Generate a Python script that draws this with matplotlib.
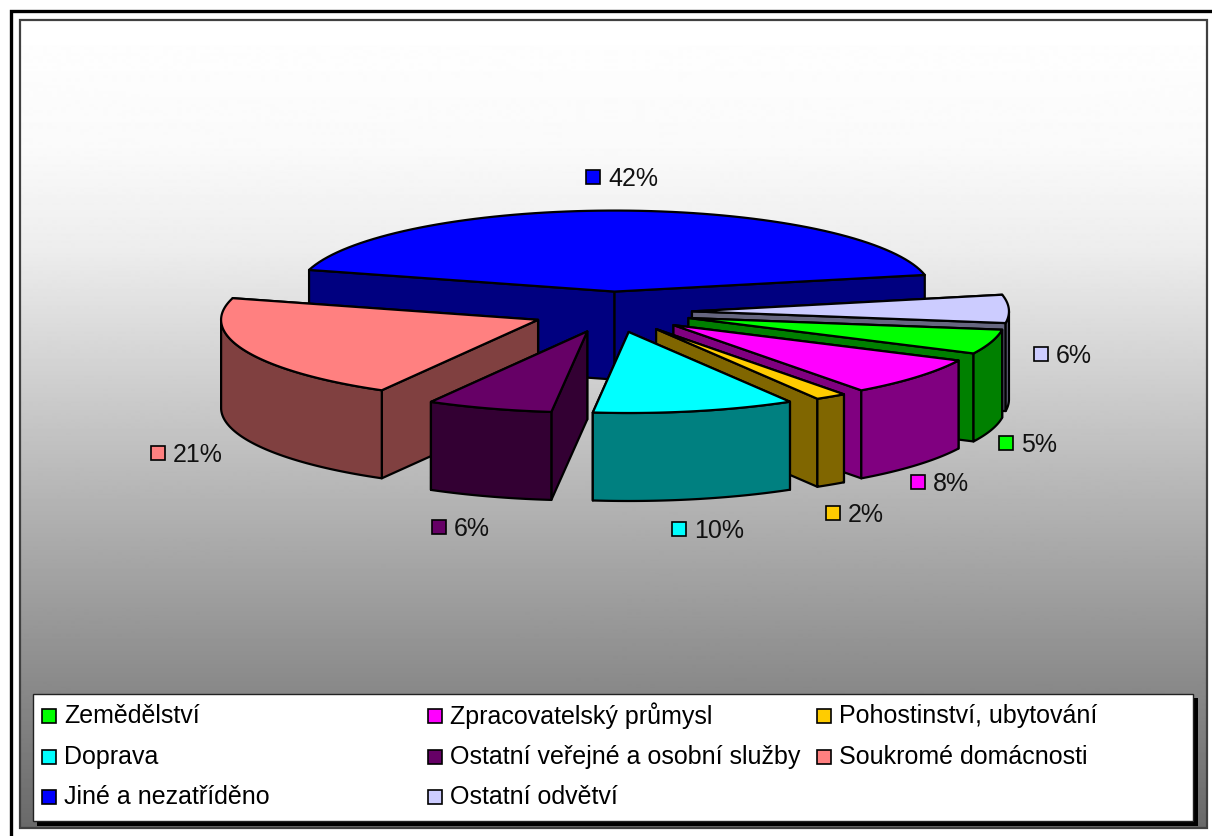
import numpy as np
import matplotlib
matplotlib.use("Agg")
import matplotlib.pyplot as plt
from matplotlib.patches import Polygon, Rectangle

categories = ["Zemědělství", "Zpracovatelský průmysl", "Pohostinství, ubytování",
              "Doprava", "Ostatní veřejné a osobní služby", "Soukromé domácnosti",
              "Jiné a nezatříděno", "Ostatní odvětví"]
values = [4.9, 7.7, 1.6, 10.3, 6.4, 21.1, 42.4, 5.6]
top_colors = ["#00FF00", "#FF00FF", "#FFCC00", "#00FFFF", "#660066", "#FF8080", "#0000FF", "#CCCCFF"]
side_colors = ["#008000", "#800080", "#806600", "#008080", "#330033", "#804040", "#000080", "#666680"]

# label anchors in pixels (key centre), same order as categories
label_x = [1006, 918, 833, 679, 439, 158, 593, 1041]
label_y = [444, 483, 514, 530, 528, 454, 178, 355]

# pie geometry in pixels
cx, cy = 612, 313
rx, ry = 317, 81
explode = 80
depth = 88
start_angle = -8.3

plt.rcParams["font.family"] = ["Liberation Sans", "DejaVu Sans"]

fig = plt.figure(figsize=(12.12, 8.37), dpi=100)
ax = fig.add_axes([0, 0, 1, 1])
ax.set_xlim(0, 1212)
ax.set_ylim(837, 0)
ax.axis("off")

# frame and gradient background
ax.plot([10.5, 10.5, 1212], [837, 11.5, 11.5], color="black", lw=2.4, solid_joinstyle="miter")
rows = np.arange(21, 830)
grad = np.interp(rows, [21, 150, 250, 830], [255, 250, 237, 105])[:, None]
ax.imshow(grad, cmap="gray", vmin=0, vmax=255, extent=[20, 1207, 829, 21], aspect="auto", zorder=0)
ax.set_xlim(0, 1212)
ax.set_ylim(837, 0)
ax.add_patch(Rectangle((20, 21), 1187, 808, fill=False, ec="#404040", lw=1.6, zorder=1))


def pt(a, mx, my, drop=0):
    t = np.radians(a)
    return mx + rx * np.cos(t), my - ry * np.sin(t) + drop


# slices run clockwise from the start angle
sweep = np.array(values) * 3.6
ends = start_angle - np.cumsum(sweep)
starts = ends + sweep
mids = (starts + ends) / 2
apex_x = cx + explode * np.cos(np.radians(mids))
apex_y = cy - explode * (ry / rx) * np.sin(np.radians(mids))

z = 5
for i in np.argsort(apex_y):
    mx, my = apex_x[i], apex_y[i]
    a0, a1 = starts[i], ends[i]
    style = dict(ec="black", lw=1.6, joinstyle="round")

    # the two cut faces, the one further back first
    faces = []
    for a in (a0, a1):
        ex, ey = pt(a, mx, my)
        faces.append((ey, [(mx, my), (ex, ey), (ex, ey + depth), (mx, my + depth)]))
    faces.sort(key=lambda f: f[0])
    for _, verts in faces:
        ax.add_patch(Polygon(verts, fc=side_colors[i], zorder=z, **style))
        z += 1

    # outer rim, only the part facing the viewer
    arc = np.linspace(a0, a1, 80)
    front = arc[np.sin(np.radians(arc)) < 0]
    if len(front) > 1:
        upper = [pt(a, mx, my) for a in front]
        lower = [pt(a, mx, my, depth) for a in front[::-1]]
        ax.add_patch(Polygon(upper + lower, fc=side_colors[i], zorder=z, **style))
        z += 1

    # top of the slice
    ax.add_patch(Polygon([(mx, my)] + [pt(a, mx, my) for a in arc], fc=top_colors[i], zorder=z, **style))
    z += 1


def key(x, y, color):
    ax.add_patch(Rectangle((x - 7, y - 7), 14, 14, fc=color, ec="black", lw=1.2, zorder=200))


# data labels
for i in range(len(values)):
    key(label_x[i], label_y[i], top_colors[i])
    ax.text(label_x[i] + 15, label_y[i] + 1, "%d%%" % round(values[i]), fontsize=18,
            va="center", ha="left", color="#111111", zorder=200)

# legend box with shadow
ax.add_patch(Rectangle((37, 699), 1161, 128, fc="black", ec="none", zorder=150))
ax.add_patch(Rectangle((33, 695), 1160, 127, fc="white", ec="#222222", lw=1, zorder=151))
col_x = [49, 435, 824]
row_y = [717, 758, 798]
for i, name in enumerate(categories):
    x = col_x[i % 3]
    y = row_y[i // 3]
    key(x, y, top_colors[i])
    ax.text(x + 15, y - 1, name, fontsize=18, va="center", ha="left", color="black", zorder=200)

fig.savefig("out.png", dpi=100, facecolor="white")
